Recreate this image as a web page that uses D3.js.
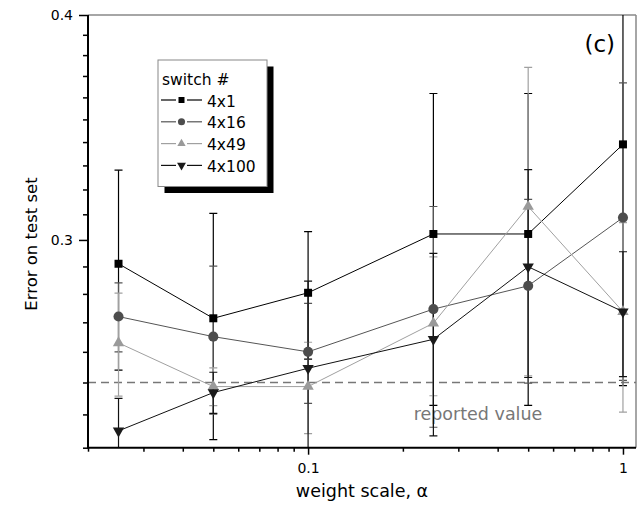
<!DOCTYPE html>
<html>
<head>
<meta charset="utf-8">
<script src="https://cdn.jsdelivr.net/npm/d3@7"></script>
<style>
    body { margin: 0; background: white; }
    text { font-family: "DejaVu Sans", sans-serif; }
</style>
</head>
<body>
<div id="my_dataviz"></div>
<script>
// weight scale values (x) and error on test set per switch size
const alphas = [0.025, 0.05, 0.1, 0.25, 0.5, 1];

const err4x1 = [0.291, 0.2714, 0.2804, 0.3023, 0.3023, 0.339];
const sd4x1 = [0.037, 0.039, 0.0228, 0.0595, 0.0595, 0.090];

const err4x16 = [0.272, 0.2651, 0.260, 0.2746, 0.2829, 0.3087];
const sd4x16 = [0.012, 0.025, 0.0166, 0.0385, 0.0331, 0.058];

const err4x49 = [0.263, 0.2487, 0.2487, 0.2697, 0.3131, 0.2737];
const sd4x49 = [0.0173, 0.006, 0.0145, 0.0239, 0.061, 0.033];

const err4x100 = [0.235, 0.2468, 0.2546, 0.2642, 0.2899, 0.2737];
const sd4x100 = [0.010, 0.0065, 0.030, 0.0307, 0.0383, 0.0218];

const seriesNames = ["4x1", "4x16", "4x49", "4x100"];
const reportedValue = 0.25;

const xMinorTicks = [0.02, 0.03, 0.04, 0.05, 0.06, 0.07, 0.08, 0.09, 0.2, 0.3, 0.4, 0.5, 0.6, 0.7, 0.8, 0.9];
const xMajorTicks = [0.1, 1];
const yMinorTicks = [0.23, 0.24, 0.25, 0.26, 0.27, 0.28, 0.29, 0.31, 0.32, 0.33, 0.34, 0.35, 0.36, 0.37, 0.38, 0.39];
const yMajorTicks = [0.3, 0.4];

// set the dimensions and margins of the graph
var margin = { top: 15, right: 4, bottom: 64.3, left: 88 },
    width = 640 - margin.left - margin.right,
    height = 512 - margin.top - margin.bottom;

var svg = d3.select("#my_dataviz")
    .append("svg")
    .attr("width", 640)
    .attr("height", 512)
    .append("g")
    .attr("transform", "translate(" + margin.left + "," + margin.top + ")")

var x = d3.scaleLog().domain([0.02, 1.1]).range([0, width])
var y = d3.scaleLog().domain([0.23, 0.4]).range([height, 0])

svg.append("clipPath").attr("id", "plotclip")
    .append("rect").attr("width", width).attr("height", height)

// style of each series
var series = [
    { name: seriesNames[0], values: err4x1, errs: sd4x1, color: "#000", fill: "#000", symbol: d3.symbolSquare, size: 64, lsize: 36, rot: 0 },
    { name: seriesNames[1], values: err4x16, errs: sd4x16, color: "#555", fill: "#4d4d4d", symbol: d3.symbolCircle, size: 80, lsize: 40, rot: 0 },
    { name: seriesNames[2], values: err4x49, errs: sd4x49, color: "#a0a0a0", fill: "#9a9a9a", symbol: d3.symbolTriangle, size: 56, lsize: 30, rot: 0 },
    { name: seriesNames[3], values: err4x100, errs: sd4x100, color: "#111", fill: "#1a1a1a", symbol: d3.symbolTriangle, size: 56, lsize: 34, rot: 180 }
]

// frame (top and right)
svg.append("line").attr("x1", 0).attr("x2", width).attr("y1", 0).attr("y2", 0)
    .style("stroke", "#888").style("stroke-width", 1.5)
svg.append("line").attr("x1", width).attr("x2", width).attr("y1", 0).attr("y2", height)
    .style("stroke", "#888").style("stroke-width", 1.5)

// reported value
svg.append("line")
    .attr("x1", 0).attr("x2", width)
    .attr("y1", y(reportedValue)).attr("y2", y(reportedValue))
    .style("stroke", "#777").style("stroke-width", 1.5)
    .style("stroke-dasharray", "8,5")

svg.append("text")
    .attr("x", 478 - margin.left)
    .attr("y", 420 - margin.top)
    .attr("text-anchor", "middle")
    .style("font-size", "17.5px")
    .style("fill", "#777")
    .text("reported value")

// error bars
var bars = svg.append("g").attr("clip-path", "url(#plotclip)")
series.forEach(function (s) {
    var g = bars.append("g").style("stroke", s.color).style("stroke-width", 1.2)
    alphas.forEach(function (a, i) {
        var px = x(a)
        var hi = y(s.values[i] + s.errs[i])
        var lo = y(s.values[i] - s.errs[i])
        g.append("line").attr("x1", px).attr("x2", px).attr("y1", hi).attr("y2", lo)
        g.append("line").attr("x1", px - 4).attr("x2", px + 4).attr("y1", hi).attr("y2", hi)
        g.append("line").attr("x1", px - 4).attr("x2", px + 4).attr("y1", lo).attr("y2", lo)
    })
})

// lines
var line = d3.line()
    .x(function (d) { return x(d[0]) })
    .y(function (d) { return y(d[1]) })
series.forEach(function (s) {
    svg.append("path")
        .datum(alphas.map(function (a, i) { return [a, s.values[i]] }))
        .attr("d", line)
        .style("fill", "none")
        .style("stroke", s.color)
        .style("stroke-width", 1)
})

// markers
series.forEach(function (s) {
    svg.append("g")
        .selectAll("path")
        .data(alphas.map(function (a, i) { return [a, s.values[i]] }))
        .enter()
        .append("path")
        .attr("d", d3.symbol().type(s.symbol).size(s.size))
        .attr("transform", function (d) { return "translate(" + x(d[0]) + "," + y(d[1]) + ") rotate(" + s.rot + ")" })
        .style("fill", s.fill)
})

// Y axis
svg.append("g")
    .call(d3.axisLeft(y).tickValues(yMinorTicks).tickSize(5).tickSizeOuter(0).tickFormat(""))
    .call(function (g) { g.select(".domain").remove() })
var yAxis = svg.append("g")
    .call(d3.axisLeft(y).tickValues(yMajorTicks).tickSize(9).tickSizeOuter(0).tickPadding(6).tickFormat(d3.format(".1f")))
yAxis.select(".domain").remove()
yAxis.selectAll("text").style("font-size", "14px").style("fill", "#000")
svg.append("line").attr("x1", 0).attr("x2", 0).attr("y1", 0).attr("y2", height + 1)
    .style("stroke", "#000").style("stroke-width", 2)

// X axis
svg.append("g")
    .attr("transform", "translate(0," + height + ")")
    .call(d3.axisBottom(x).tickValues(xMinorTicks).tickSize(4).tickSizeOuter(0).tickFormat(""))
    .call(function (g) { g.select(".domain").remove() })
var xAxis = svg.append("g")
    .attr("transform", "translate(0," + height + ")")
    .call(d3.axisBottom(x).tickValues(xMajorTicks).tickSize(7).tickSizeOuter(0).tickPadding(8).tickFormat(d3.format("")))
xAxis.select(".domain").remove()
xAxis.selectAll("text").style("font-size", "14px").style("fill", "#000")
svg.append("line").attr("x1", -1).attr("x2", width).attr("y1", height).attr("y2", height)
    .style("stroke", "#000").style("stroke-width", 2)
svg.selectAll(".tick line").style("stroke-width", 1.5)

// axis titles
svg.append("text")
    .attr("text-anchor", "middle")
    .attr("x", 362 - margin.left)
    .attr("y", 497 - margin.top)
    .style("font-size", "17.5px")
    .text("weight scale, \u03b1")

svg.append("text")
    .attr("text-anchor", "middle")
    .attr("transform", "rotate(-90)")
    .attr("x", -(244 - margin.top))
    .attr("y", 37 - margin.left)
    .style("font-size", "16.5px")
    .text("Error on test set")

svg.append("text")
    .attr("text-anchor", "end")
    .attr("x", 615 - margin.left)
    .attr("y", 52 - margin.top)
    .style("font-size", "23px")
    .text("(c)")

// legend
var legend = svg.append("g").attr("transform", "translate(" + (158 - margin.left) + "," + (60 - margin.top) + ")")
legend.append("rect").attr("x", 6.5).attr("y", 6.5).attr("width", 109).attr("height", 126.5).style("fill", "#000")
legend.append("rect").attr("x", 0).attr("y", 0).attr("width", 109).attr("height", 126.5)
    .style("fill", "#fff").style("stroke", "#888").style("stroke-width", 1)
legend.append("text").attr("x", 4).attr("y", 25).style("font-size", "15.5px").text("switch #")
series.forEach(function (s, i) {
    var ly = 40 + i * 21.8
    legend.append("line").attr("x1", 3).attr("x2", 18).attr("y1", ly).attr("y2", ly)
        .style("stroke", s.color).style("stroke-width", 1.2)
    legend.append("line").attr("x1", 29).attr("x2", 44).attr("y1", ly).attr("y2", ly)
        .style("stroke", s.color).style("stroke-width", 1.2)
    legend.append("path")
        .attr("d", d3.symbol().type(s.symbol).size(s.lsize))
        .attr("transform", "translate(23.5," + ly + ") rotate(" + s.rot + ")")
        .style("fill", s.fill)
    legend.append("text").attr("x", 49).attr("y", ly + 6.5).style("font-size", "15.5px").text(s.name)
})
</script>
</body>
</html>
